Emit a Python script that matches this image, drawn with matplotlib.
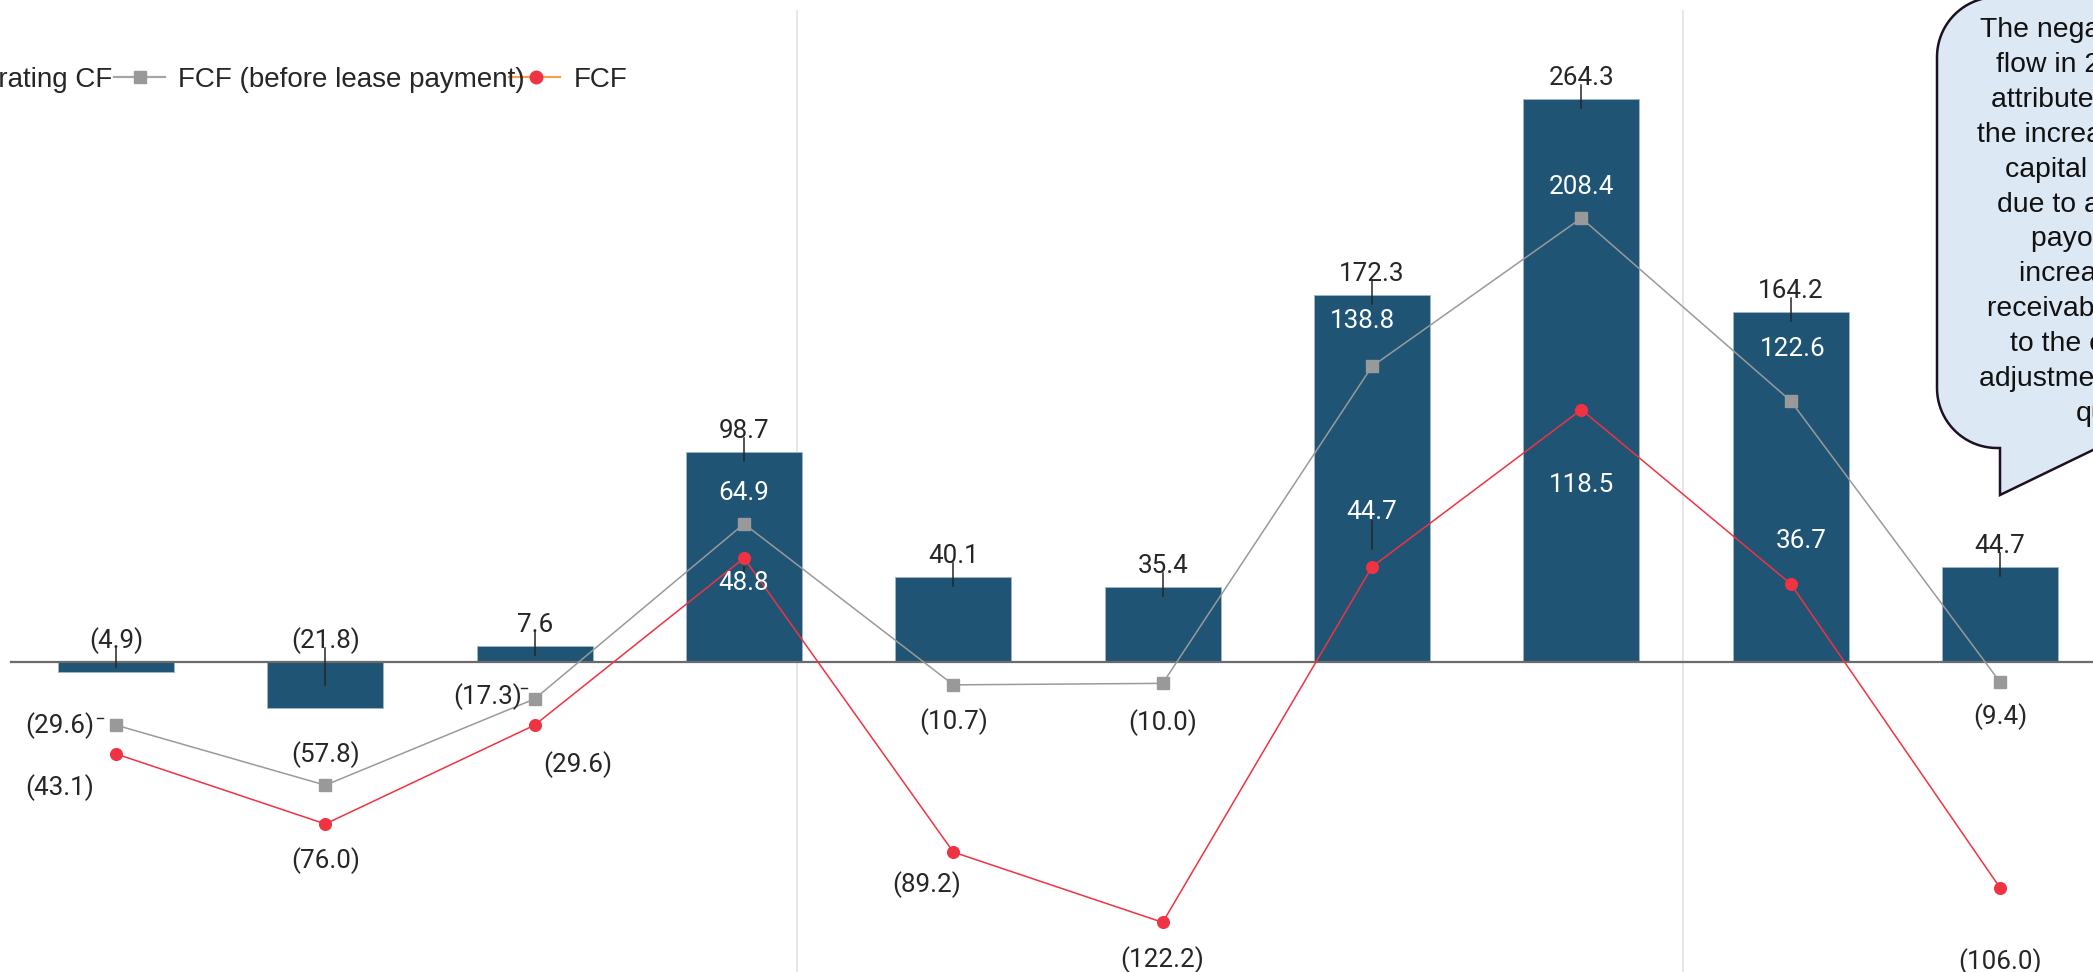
import numpy as np
import matplotlib
matplotlib.use("Agg")
import matplotlib.pyplot as plt
from matplotlib.path import Path
from matplotlib.patches import PathPatch
from matplotlib.lines import Line2D

W, H = 2093, 972

# values (negatives shown in brackets)
operating_cf = [-4.9, -21.8, 7.6, 98.7, 40.1, 35.4, 172.3, 264.3, 164.2, 44.7]
fcf_before_lease = [-29.6, -57.8, -17.3, 64.9, -10.7, -10.0, 138.8, 208.4, 122.6, -9.4]
fcf = [-43.1, -76.0, -29.6, 48.8, -89.2, -122.2, 44.7, 118.5, 36.7, -106.0]

legend_labels = ["Operating CF", "FCF (before lease payment)", "FCF"]

callout_lines = ["The negative free", "flow in 2Q FY2024", "attributed mainly",
                 "the increase in work", "capital requirement", "due to a lump-sum",
                 "payout and", "increase in", "receivables due", "to the calendar",
                 "adjustment at the", "quarter-end"]
callout_starts = [1980, 1996, 1991, 1977, 2005, 1997, 2031, 2019, 1987, 2010, 1979, 2076]

# label offsets from the point, in pixels (dx, dy with y pointing down)
gray_offsets = [(-56, 0), (0, -31), (-47, -2), (0, -31), (0, 37),
                (0, 39), (-10, -45), (0, -31), (2, -52), (0, 34)]
red_offsets = [(-56, 34), (0, 37), (43, 39), (0, 25), (-27, 33),
               (0, 37), (0, -55), (0, 75), (10, -43), (0, 74)]
white_idx = {3, 6, 7, 8}

BAR = '#1f5475'
GRAY = '#999999'
RED = '#f03342'
TXT = '#262626'
LBL = dict(family='Roboto', fontsize=18.7)


def fmt(v):
    return f"({abs(v):.1f})" if v < 0 else f"{v:.1f}"


def fig_xy(x, y):
    # figure pixels (y down) -> figure fraction
    return x / W, 1 - y / H


fig = plt.figure(figsize=(W / 100, H / 100), dpi=100)
ax = fig.add_axes([0, 0, 1, 1])
ymin, ymax = -145.5, 310.8
ax.set_xlim(-0.554, 9.444)
ax.set_ylim(ymin, ymax)
ax.axis('off')
upp = (ymax - ymin) / H  # data units per pixel
xpp = (9.444 + 0.554) / W

x = np.arange(len(operating_cf))
ax.bar(x, operating_cf, width=0.554, color=BAR, edgecolor='#a3b7c6', linewidth=0.6, zorder=2)
ax.axhline(0, xmin=11 / W, xmax=1, color='#6b6b6b', lw=1.6, zorder=3)

# separators
for sx in [3.254, 7.487]:
    ax.plot([sx, sx], [ymin, ymax - 11 * upp], color='#e3e3e3', lw=1.2, zorder=1)

ax.plot(x, fcf_before_lease, color='#9a9a9a', lw=1.1, marker='s', ms=8.9,
        mfc=GRAY, mec=GRAY, zorder=4)
ax.plot(x, fcf, color=RED, lw=1.1, marker='o', ms=8.4, mfc=RED, mec=RED, zorder=5)

# bar labels with short leader lines
for i, v in enumerate(operating_cf):
    top = max(v, 0)
    ax.annotate(fmt(v), (i, top), xytext=(0, 21), textcoords='offset pixels',
                ha='center', va='center', color=TXT, zorder=7, **LBL)
    y1 = top - 9 * upp if v > 0 else v / 2
    ax.plot([i, i], [top + 14 * upp, y1], color=TXT, lw=1.1, zorder=6)

# line labels
for vals, offs in [(fcf_before_lease, gray_offsets), (fcf, red_offsets)]:
    for i, v in enumerate(vals):
        dx, dy = offs[i]
        c = 'white' if i in white_idx else TXT
        ax.annotate(fmt(v), (i, v), xytext=(dx, -dy), textcoords='offset pixels',
                    ha='center', va='center', color=c, zorder=7, **LBL)

# leader lines on a few red labels
for i, (a, b) in {3: (9, 17), 6: (-46, -18)}.items():
    ax.plot([i, i], [fcf[i] - a * upp, fcf[i] - b * upp], color=TXT, lw=1.1, zorder=6)
# small dashes beside two grey labels
for i, (dx, dy) in {0: (-16, -7), 2: (-11, -11)}.items():
    ax.plot([i + (dx - 3) * xpp, i + (dx + 3) * xpp], [fcf_before_lease[i] - dy * upp] * 2,
            color=TXT, lw=1.0, zorder=6)

# legend, drawn by hand (left part runs off the canvas)
lfont = dict(family='Liberation Sans', fontsize=20, color=TXT, va='baseline')
fig.text(*fig_xy(112, 87), legend_labels[0], ha='right', **lfont)
fig.text(*fig_xy(178, 87), legend_labels[1], ha='left', **lfont)
fig.text(*fig_xy(574, 87), legend_labels[2], ha='left', **lfont)
for (x0, x1, xm), lc, mk, mc in [((114, 165, 140), '#a6a6a6', 's', GRAY),
                                  ((509, 560, 536), '#f4a04c', 'o', RED)]:
    fig.add_artist(Line2D([x0 / W, x1 / W], [1 - 77 / H] * 2, color=lc, lw=1.6,
                          transform=fig.transFigure))
    fig.add_artist(Line2D([xm / W], [1 - 77 / H], marker=mk, ms=9, color=mc,
                          transform=fig.transFigure, zorder=5))

# speech-bubble callout (cut off at the right edge)
r = 60
left, top, bot = 1937, -3, 448
far = 2300
tail_x, tail_y = 2000, 495
t = np.linspace(0, np.pi / 2, 24)
pts = [(far, top), (left + r, top)]
pts += list(zip(left + r - r * np.sin(t), top + r - r * np.cos(t)))
pts += [(left, bot - r)]
pts += list(zip(left + r - r * np.cos(t), bot - r + r * np.sin(t)))
pts += [(tail_x, bot), (tail_x, tail_y), (far, tail_y - (far - tail_x) * 45 / 93), (far, top)]
verts = [fig_xy(px, py) for px, py in pts]
codes = [Path.MOVETO] + [Path.LINETO] * (len(verts) - 2) + [Path.CLOSEPOLY]
bubble = PathPatch(Path(verts, codes), facecolor='#dde8f5', edgecolor='#1d1020', lw=1.8,
                   transform=fig.transFigure, zorder=8)
fig.add_artist(bubble)
for k, (line, sx) in enumerate(zip(callout_lines, callout_starts)):
    fig.text(*fig_xy(sx, 37 + 34.9 * k), line, ha='left', va='baseline',
             family='Liberation Sans', fontsize=20.4, color='#111111', zorder=9)

fig.savefig('out.png', dpi=100)
